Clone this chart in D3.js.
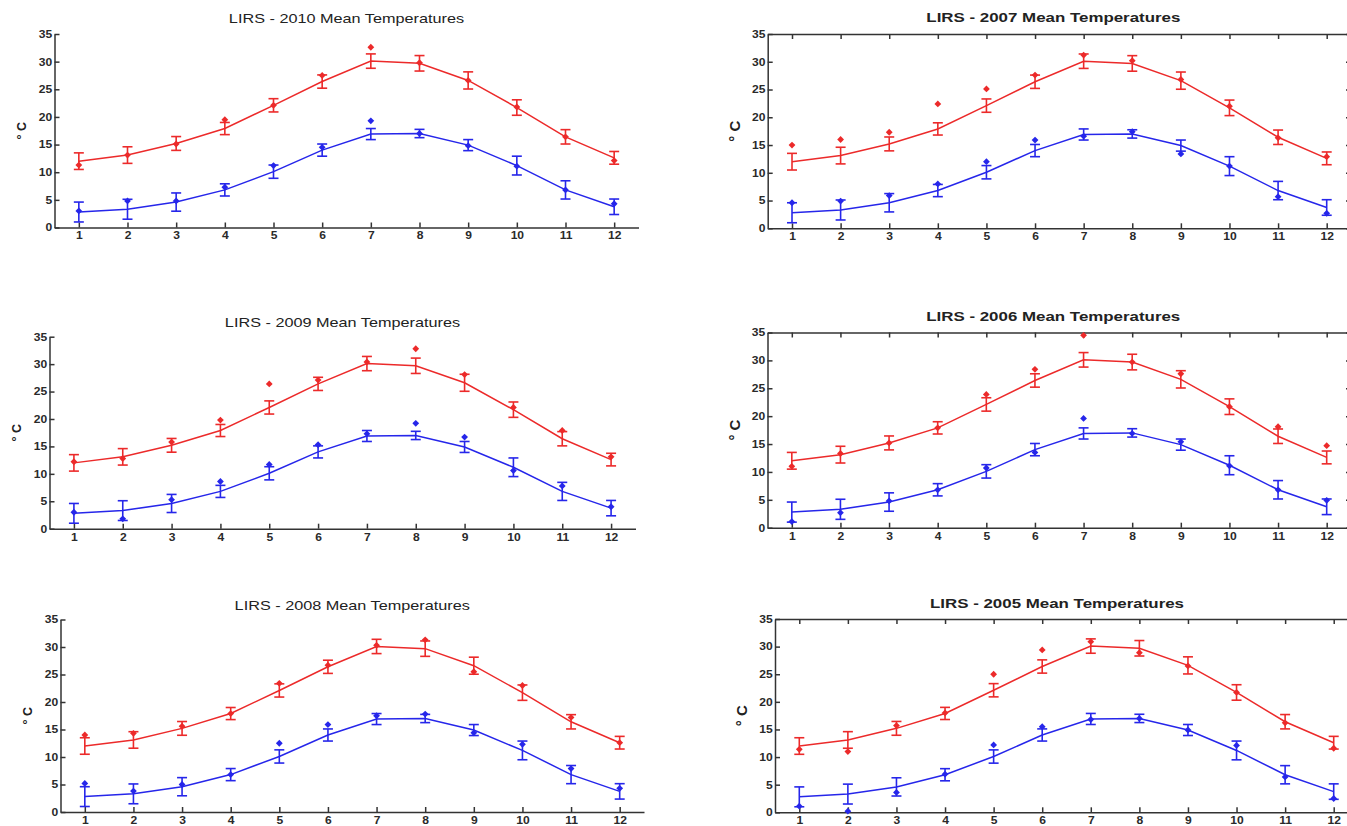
<!DOCTYPE html>
<html>
<head>
<meta charset="utf-8">
<script src="https://cdn.jsdelivr.net/npm/d3@7"></script>
<style>
  html, body { margin: 0; padding: 0; background: #fff; }
  svg { display: block; font-family: "Liberation Sans", Arial, sans-serif; }
</style>
</head>
<body>
<div id="container"></div>
<script>
const months    = [1, 2, 3, 4, 5, 6, 7, 8, 9, 10, 11, 12];
const yTicks    = [0, 5, 10, 15, 20, 25, 30, 35];

// long-term monthly means (same on every panel) and their error bars
const highMean  = [12.0, 13.1, 15.2, 17.9, 22.1, 26.4, 30.1, 29.7, 26.6, 21.7, 16.4, 12.6];
const highErr   = [1.5, 1.5, 1.25, 1.1, 1.2, 1.2, 1.3, 1.4, 1.55, 1.4, 1.3, 1.15];
const lowMean   = [2.8, 3.3, 4.6, 6.8, 10.1, 14.0, 16.9, 17.0, 14.9, 11.2, 6.8, 3.75];
const lowErr    = [1.8, 1.8, 1.65, 1.1, 1.2, 1.1, 1.0, 0.75, 1.0, 1.7, 1.65, 1.4];

// yearly monthly means (diamonds)
const high2010  = [11.3, 13.1, 15.1, 19.5, 22.1, 27.5, 32.6, 29.8, 26.6, 21.8, 16.4, 12.1];
const low2010   = [3.0, 4.8, 4.8, 7.3, 11.2, 14.5, 19.3, 17.0, 14.8, 11.1, 6.8, 4.3];
const high2007  = [15.0, 16.0, 17.3, 22.4, 25.1, 27.6, 31.2, 30.2, 26.8, 22.0, 16.3, 12.9];
const low2007   = [4.6, 4.9, 5.9, 8.0, 12.0, 15.9, 16.6, 17.4, 13.4, 11.2, 5.7, 2.7];
const high2009  = [12.2, 12.8, 15.8, 19.8, 26.4, 27.1, 30.4, 32.8, 28.1, 22.1, 17.9, 13.1];
const low2009   = [3.0, 1.8, 5.3, 8.6, 11.7, 15.3, 17.3, 19.2, 16.7, 10.6, 7.8, 4.0];
const high2006  = [11.0, 13.3, 15.2, 17.9, 23.9, 28.4, 34.5, 29.7, 27.6, 21.7, 18.1, 14.7];
const low2006   = [1.1, 2.7, 4.8, 6.8, 10.7, 13.5, 19.6, 16.9, 15.4, 11.1, 6.8, 4.9];
const high2008  = [14.0, 14.3, 15.6, 17.9, 23.4, 26.7, 30.3, 31.3, 25.5, 23.0, 17.2, 12.6];
const low2008   = [5.2, 3.8, 5.0, 6.8, 12.5, 15.9, 17.5, 17.8, 14.4, 12.3, 7.9, 4.3];
const high2005  = [11.4, 11.0, 15.7, 18.0, 25.0, 29.4, 30.9, 28.9, 26.5, 21.7, 16.2, 11.6];
const low2005   = [1.1, 0.2, 3.6, 6.9, 12.2, 15.5, 16.8, 17.0, 14.9, 12.1, 6.4, 2.5];

const titles    = ["LIRS - 2010 Mean Temperatures", "LIRS - 2007 Mean Temperatures",
                   "LIRS - 2009 Mean Temperatures", "LIRS - 2006 Mean Temperatures",
                   "LIRS - 2008 Mean Temperatures", "LIRS - 2005 Mean Temperatures"];
const highs     = [high2010, high2007, high2009, high2006, high2008, high2005];
const lows      = [low2010, low2007, low2009, low2006, low2008, low2005];

// panel frames in page pixels (left column plain axes, right column boxed, bold titles)
const layout = [
  { x0: 54.5,  x1: 638.5, top: 34,    bottom: 227.5, titleY: 19,  right: false },
  { x0: 767.7, x1: 1351,  top: 34,    bottom: 228.3, titleY: 17,  right: true  },
  { x0: 49.5,  x1: 635.5, top: 336.7, bottom: 528.7, titleY: 323, right: false },
  { x0: 767.5, x1: 1351,  top: 332.5, bottom: 527.7, titleY: 316, right: true  },
  { x0: 60.5,  x1: 644,   top: 619.5, bottom: 812,   titleY: 606, right: false },
  { x0: 775,   x1: 1358,  top: 619,   bottom: 812.3, titleY: 603, right: true  }
];

const W = 1347, H = 826;
const red  = "#ec2a2a";
const blue = "#2626ea";
const axisColor = "#333";
const stretch = 1.3;   // the source image is horizontally stretched

const svg = d3.select("#container")
  .append("svg")
    .attr("width", W)
    .attr("height", H);

const diamond = r => `M0,${-r}L${r},0L0,${r}L${-r},0Z`;

layout.forEach((p, i) => {
  const x = d3.scaleLinear().domain([0.5, 12.5]).range([p.x0, p.x1]);
  const y = d3.scaleLinear().domain([0, 35]).range([p.bottom, p.top]);
  const g = svg.append("g");

  // Axes (ticks point inward, MATLAB style)
  const xAxis = g.append("g")
    .attr("transform", `translate(0,${p.bottom})`)
    .call(d3.axisBottom(x).tickValues(months).tickSize(-5).tickSizeOuter(0).tickPadding(4));
  g.append("g")
    .attr("transform", `translate(${p.x0},0)`)
    .call(d3.axisLeft(y).tickValues(yTicks).tickSize(-5).tickSizeOuter(0).tickPadding(2));

  if (p.right) {
    g.append("g")
      .attr("transform", `translate(0,${p.top})`)
      .call(d3.axisTop(x).tickValues(months).tickSize(-5).tickSizeOuter(0).tickFormat(""));
    g.append("g")
      .attr("transform", `translate(${p.x1},0)`)
      .call(d3.axisRight(y).tickValues(yTicks).tickSize(-5).tickSizeOuter(0).tickFormat(""));
  }

  g.selectAll(".domain, .tick line")
    .attr("stroke", axisColor)
    .attr("stroke-width", 1.5);

  g.selectAll(".tick text")
    .attr("fill", "#2a2a2a")
    .attr("font-size", 10.5)
    .attr("font-weight", "bold")
    .attr("transform", `scale(1.15,1)`);
  xAxis.selectAll(".tick text").attr("dy", "0.75em");

  // Title
  g.append("text")
    .attr("transform", `translate(${(p.x0 + Math.min(p.x1, W)) / 2 + (p.right ? -4 : 0)},${p.titleY}) scale(${stretch},1)`)
    .attr("text-anchor", "middle")
    .attr("dy", "0.35em")
    .attr("font-size", p.right ? 13 : 12.5)
    .attr("font-weight", p.right ? "bold" : "normal")
    .attr("fill", "#222")
    .text(titles[i]);

  // Y label
  g.append("text")
    .attr("transform", `translate(${p.x0 - 33},${(p.top + p.bottom) / 2}) rotate(-90)`)
    .attr("text-anchor", "middle")
    .attr("dy", "0.35em")
    .attr("font-size", p.right ? 15 : 12.5)
    .attr("font-weight", "bold")
    .attr("fill", "#222")
    .text("° C");

  const series = [
    { mean: highMean, err: highErr, pts: highs[i], color: red },
    { mean: lowMean,  err: lowErr,  pts: lows[i],  color: blue }
  ];

  series.forEach(s => {
    const rows = months.map((m, k) => ({ m, v: s.mean[k], e: s.err[k], p: s.pts[k] }));

    g.append("path")
      .datum(rows)
      .attr("fill", "none")
      .attr("stroke", s.color)
      .attr("stroke-width", 1.5)
      .attr("d", d3.line().x(d => x(d.m)).y(d => y(d.v)));

    const eb = g.append("g")
      .attr("stroke", s.color)
      .attr("stroke-width", 1.6);
    eb.selectAll("line.stem")
      .data(rows)
      .join("line")
        .attr("class", "stem")
        .attr("x1", d => x(d.m)).attr("x2", d => x(d.m))
        .attr("y1", d => y(d.v + d.e)).attr("y2", d => y(d.v - d.e));
    eb.selectAll("line.capTop")
      .data(rows)
      .join("line")
        .attr("class", "capTop")
        .attr("x1", d => x(d.m) - 5).attr("x2", d => x(d.m) + 5)
        .attr("y1", d => y(d.v + d.e)).attr("y2", d => y(d.v + d.e));
    eb.selectAll("line.capBot")
      .data(rows)
      .join("line")
        .attr("class", "capBot")
        .attr("x1", d => x(d.m) - 5).attr("x2", d => x(d.m) + 5)
        .attr("y1", d => y(d.v - d.e)).attr("y2", d => y(d.v - d.e));

    g.selectAll(null)
      .data(rows)
      .join("path")
        .attr("transform", d => `translate(${x(d.m)},${y(d.p)})`)
        .attr("d", diamond(3.4))
        .attr("fill", s.color);
  });
});
</script>
</body>
</html>
